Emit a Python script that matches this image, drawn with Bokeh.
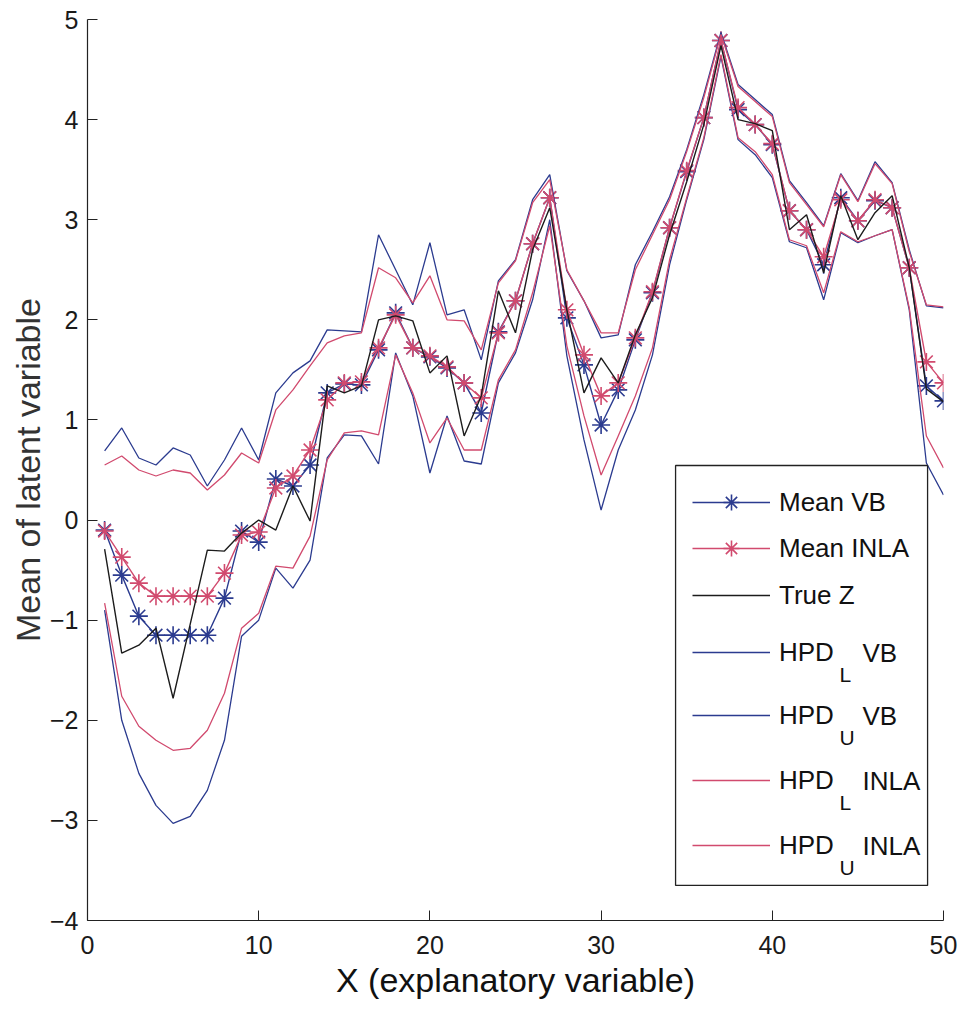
from bokeh.plotting import figure
from bokeh.models import Range1d, FixedTicker, Legend, LegendItem, Label, BoxAnnotation, Title
from bokeh.embed import file_html
from bokeh.resources import INLINE

# explanatory variable (observation index)
x = list(range(1, 51))

mean_vb = [-0.10, -0.55, -0.96, -1.15, -1.15, -1.15, -1.15, -0.78, -0.11, -0.22,
           0.41, 0.34, 0.55, 1.27, 1.36, 1.35, 1.70, 2.07, 1.72, 1.63,
           1.52, 1.37, 1.07, 1.88, 2.19, 2.76, 3.22, 2.02, 1.55, 0.95,
           1.30, 1.80, 2.27, 2.92, 3.48, 4.02, 4.79, 4.10, 3.95, 3.75,
           3.09, 2.90, 2.55, 3.22, 2.99, 3.19, 3.12, 2.52, 1.34, 1.19]

mean_inla = [-0.11, -0.37, -0.63, -0.76, -0.76, -0.76, -0.76, -0.53, -0.15, -0.12,
             0.32, 0.44, 0.70, 1.20, 1.37, 1.38, 1.72, 2.05, 1.72, 1.64,
             1.53, 1.37, 1.22, 1.87, 2.19, 2.76, 3.22, 2.10, 1.65, 1.24,
             1.37, 1.82, 2.28, 2.92, 3.49, 4.02, 4.79, 4.12, 3.95, 3.76,
             3.09, 2.90, 2.63, 3.20, 2.99, 3.20, 3.12, 2.52, 1.58, 1.37]

true_z = [-0.29, -1.33, -1.25, -1.08, -1.78, -1.04, -0.30, -0.31, -0.13, 0.00,
          -0.10, 0.34, -0.01, 1.34, 1.27, 1.34, 2.00, 2.04, 1.99, 1.47,
          1.64, 0.84, 1.24, 2.29, 1.87, 2.70, 3.12, 2.10, 1.27, 1.62,
          1.37, 1.85, 2.22, 2.85, 3.38, 3.95, 4.74, 4.00, 3.96, 3.89,
          2.90, 3.05, 2.47, 3.24, 2.80, 3.07, 3.24, 2.52, 1.31, 1.18]

hpd_l_vb = [-0.90, -2.00, -2.53, -2.85, -3.03, -2.96, -2.70, -2.20, -1.16, -1.00,
            -0.48, -0.68, -0.40, 0.62, 0.85, 0.84, 0.56, 1.67, 1.24, 0.47,
            1.04, 0.59, 0.56, 1.37, 1.67, 2.20, 3.00, 1.64, 0.80, 0.10,
            0.70, 1.10, 1.65, 2.55, 3.20, 3.80, 4.63, 3.80, 3.65, 3.42,
            2.78, 2.72, 2.20, 2.87, 2.77, 2.84, 2.90, 2.10, 0.57, 0.25]

hpd_u_vb = [0.69, 0.92, 0.62, 0.55, 0.72, 0.65, 0.34, 0.60, 0.92, 0.60,
            1.27, 1.47, 1.59, 1.90, 1.89, 1.88, 2.85, 2.50, 2.15, 2.77,
            2.05, 2.10, 1.60, 2.39, 2.60, 3.20, 3.45, 2.49, 2.19, 1.82,
            1.85, 2.55, 2.88, 3.23, 3.70, 4.25, 4.87, 4.35, 4.20, 4.05,
            3.39, 3.17, 2.94, 3.46, 3.19, 3.58, 3.37, 2.70, 2.14, 2.12]

hpd_l_inla = [-0.83, -1.76, -2.06, -2.20, -2.30, -2.28, -2.10, -1.73, -1.08, -0.93,
              -0.46, -0.48, -0.16, 0.60, 0.87, 0.89, 0.85, 1.65, 1.27, 0.77,
              1.02, 0.70, 0.70, 1.40, 1.70, 2.27, 2.94, 1.74, 1.04, 0.45,
              0.84, 1.24, 1.72, 2.60, 3.22, 3.82, 4.65, 3.82, 3.68, 3.45,
              2.80, 2.74, 2.27, 2.88, 2.78, 2.84, 2.90, 2.12, 0.84, 0.52]

hpd_u_inla = [0.55, 0.64, 0.50, 0.44, 0.50, 0.47, 0.30, 0.45, 0.67, 0.57,
              1.10, 1.30, 1.54, 1.77, 1.84, 1.87, 2.52, 2.42, 2.17, 2.44,
              2.00, 1.99, 1.70, 2.37, 2.59, 3.17, 3.40, 2.50, 2.19, 1.87,
              1.87, 2.50, 2.85, 3.20, 3.68, 4.22, 4.85, 4.33, 4.18, 4.03,
              3.37, 3.15, 2.93, 3.45, 3.18, 3.56, 3.36, 2.68, 2.15, 2.13]

x_ticks = [0, 10, 20, 30, 40, 50]
y_ticks = [-4, -3, -2, -1, 0, 1, 2, 3, 4, 5]

BLUE = "#2b3b8f"
PINK = "#d14a6e"
BLACK = "#1c1c1c"
FONT = "Liberation Sans"

p = figure(width=965, height=1015, output_backend="svg", toolbar_location=None,
           x_range=Range1d(0, 50), y_range=Range1d(-4, 5),
           min_border_left=87, min_border_right=22, min_border_top=19,
           min_border_bottom=95)
p.outline_line_color = None
p.grid.visible = False
p.background_fill_color = "white"
p.border_fill_color = "white"

p.xaxis.ticker = FixedTicker(ticks=x_ticks)
p.yaxis.ticker = FixedTicker(ticks=y_ticks)
for ax in (p.xaxis[0], p.yaxis[0]):
    ax.major_tick_in = 10
    ax.major_tick_out = 0
    ax.minor_tick_line_color = None
    ax.axis_line_color = "#222222"
    ax.axis_line_width = 1.2
    ax.major_tick_line_color = "#222222"
    ax.major_label_text_font = FONT
    ax.major_label_text_font_size = "25px"
    ax.major_label_text_color = "#1a1a1a"
p.xaxis.major_label_standoff = 15
p.yaxis.major_label_standoff = 9

# axis titles
p.add_layout(Title(text="X (explanatory variable)", align="center",
                   text_font=FONT, text_font_size="34px", text_font_style="normal",
                   text_color="#111111", standoff=4), "below")
p.add_layout(Title(text="Mean of latent variable", align="center",
                   text_font=FONT, text_font_size="34px", text_font_style="normal",
                   text_color="#333333", standoff=0), "left")

# series, drawn in legend order
r_vb_line = p.line(x, mean_vb, line_color=BLUE, line_width=1.4)
r_vb_pts = p.scatter(x, mean_vb, marker="asterisk", size=18,
                     line_color=BLUE, line_width=1.6)
r_in_line = p.line(x, mean_inla, line_color=PINK, line_width=1.4)
r_in_pts = p.scatter(x, mean_inla, marker="asterisk", size=18,
                     line_color=PINK, line_width=1.6)
r_true = p.line(x, true_z, line_color=BLACK, line_width=1.4)
r_lvb = p.line(x, hpd_l_vb, line_color=BLUE, line_width=1.3)
r_uvb = p.line(x, hpd_u_vb, line_color=BLUE, line_width=1.3)
r_lin = p.line(x, hpd_l_inla, line_color=PINK, line_width=1.3)
r_uin = p.line(x, hpd_u_inla, line_color=PINK, line_width=1.3)

# legend frame
p.add_layout(BoxAnnotation(left=34.35, right=49.07, top=0.545, bottom=-3.65,
                           fill_color="white", fill_alpha=1.0,
                           line_color="#222222", line_alpha=1.0, line_width=1.3))

rows = [("Mean VB", [r_vb_line, r_vb_pts]),
        ("Mean INLA", [r_in_line, r_in_pts]),
        ("True Z", [r_true]),
        ("HPD", [r_lvb]),
        ("HPD", [r_uvb]),
        ("HPD", [r_lin]),
        ("HPD", [r_uin])]
row_centres = [502, 548, 595, 652, 715, 780, 845]   # page pixels
FRAME_LEFT, FRAME_BOTTOM = 87, 920
ROW_H = 40

for (lab, rs), c in zip(rows, row_centres):
    lg = Legend(items=[LegendItem(label=lab, renderers=rs)],
                location=(692 - FRAME_LEFT, FRAME_BOTTOM - c - ROW_H / 2),
                padding=0, margin=0, spacing=0,
                glyph_width=78, glyph_height=ROW_H, label_height=ROW_H,
                label_standoff=9,
                label_text_font=FONT, label_text_font_size="26px",
                label_text_color="#111111",
                border_line_alpha=0, background_fill_alpha=0)
    p.add_layout(lg)

# subscripts and suffixes of the HPD entries
subs = [("L", "VB", 652), ("U", "VB", 715), ("L", "INLA", 780), ("U", "INLA", 845)]
for s, suffix, c in subs:
    p.add_layout(Label(x=839 - FRAME_LEFT, y=FRAME_BOTTOM - (c + 22),
                       x_units="screen", y_units="screen", text=s,
                       text_font=FONT, text_font_size="21px", text_color="#111111",
                       text_align="left", text_baseline="middle"))
    p.add_layout(Label(x=862 - FRAME_LEFT, y=FRAME_BOTTOM - c,
                       x_units="screen", y_units="screen", text=suffix,
                       text_font=FONT, text_font_size="26px", text_color="#111111",
                       text_align="left", text_baseline="middle"))

open("out.html", "w").write(file_html(p, INLINE))
